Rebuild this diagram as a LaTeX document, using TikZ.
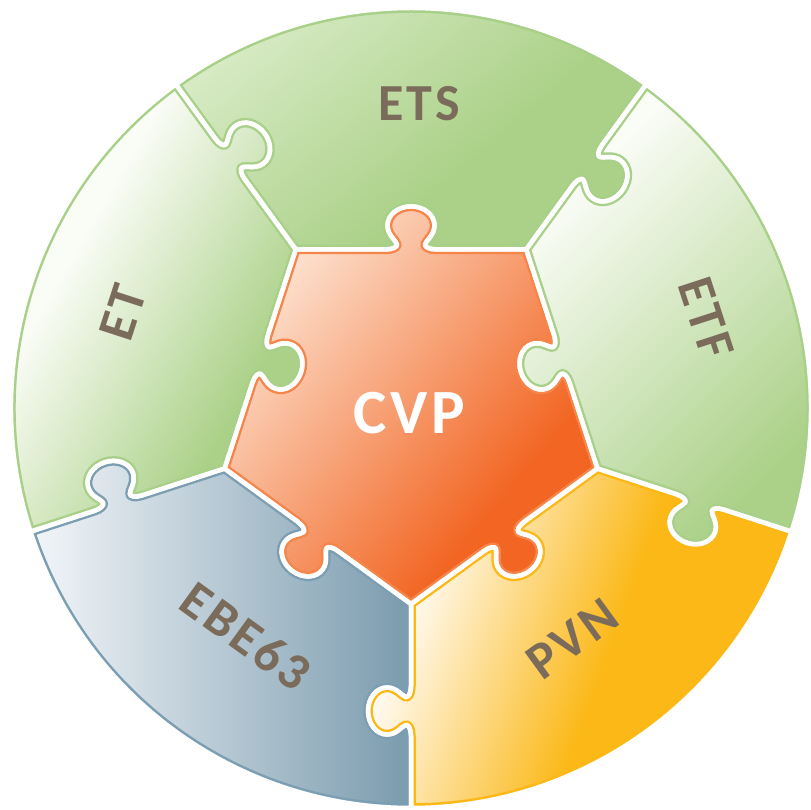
\documentclass[tikz,border=0pt]{standalone}
\usepackage{fontspec}
\setmainfont{Carlito}
\definecolor{txt}{RGB}{123,107,91}
\definecolor{grnO}{HTML}{A8D089}
\definecolor{grnD}{HTML}{ABD188}
\definecolor{grnM}{HTML}{DCEDCB}
\definecolor{grnL}{HTML}{FAFCF6}
\definecolor{orgL}{HTML}{FDE6D6}
\definecolor{orgD}{HTML}{F26522}
\definecolor{orgO}{HTML}{F58549}
\definecolor{bluL}{HTML}{F3F6F9}
\definecolor{bluD}{HTML}{7A9BAE}
\definecolor{bluO}{HTML}{7C9EB2}
\definecolor{yelL}{HTML}{FFF9EE}
\definecolor{yelD}{HTML}{FBB817}
\tikzset{
  kf/.style n args={3}{shift={#1},rotate=#2-90,xscale=#3},
  lbl/.style={text=txt, font=\fontsize{52}{60}\selectfont\bfseries\addfontfeatures{LetterSpace=6}, inner sep=0pt},
  cvplbl/.style={text=white, font=\fontsize{63}{72}\selectfont\bfseries\addfontfeatures{LetterSpace=6}, inner sep=0pt},
  gap/.style={draw=white, line width=4.5pt, line join=round},
  rim/.style={line width=9.5pt, line join=round},
}
% puzzle knob on an edge: #1 centre point, #2 direction of the knob, #3 +1 / -1 traversal
\newcommand\kn[3]{%
 -- ([kf={#1}{#2}{#3}]-25,0)
 .. controls ([kf={#1}{#2}{#3}]-18,0) and ([kf={#1}{#2}{#3}]-13.6,2.5) .. ([kf={#1}{#2}{#3}]-14,5)
 .. controls ([kf={#1}{#2}{#3}]-14.8,9) and ([kf={#1}{#2}{#3}]-23.5,14) .. ([kf={#1}{#2}{#3}]-23.5,24)
 .. controls ([kf={#1}{#2}{#3}]-23.5,34.5) and ([kf={#1}{#2}{#3}]-13,43) .. ([kf={#1}{#2}{#3}]0,43)
 .. controls ([kf={#1}{#2}{#3}]13,43) and ([kf={#1}{#2}{#3}]23.5,34.5) .. ([kf={#1}{#2}{#3}]23.5,24)
 .. controls ([kf={#1}{#2}{#3}]23.5,14) and ([kf={#1}{#2}{#3}]14.8,9) .. ([kf={#1}{#2}{#3}]14,5)
 .. controls ([kf={#1}{#2}{#3}]13.6,2.5) and ([kf={#1}{#2}{#3}]18,0) .. ([kf={#1}{#2}{#3}]25,0)}
\newcommand\pCVP{(126:196) \kn{(90:158.6)}{90}{1} -- (54:196) \kn{(18:158.6)}{198}{-1} -- (-18:196) \kn{(-54:158.6)}{-54}{1} -- (-90:196) \kn{(-126:158.6)}{-126}{1} -- (198:196) \kn{(162:158.6)}{-18}{-1} -- cycle}
\newcommand\pETS{(126:196) \kn{(126:308)}{36}{-1} -- (126:400) arc[start angle=126,end angle=54,radius=400pt] \kn{(54:300)}{-36}{1} -- (54:196) \kn{(90:158.6)}{90}{-1} -- cycle}
\newcommand\pETF{(54:196) \kn{(54:300)}{-36}{-1} -- (54:400) arc[start angle=54,end angle=-18,radius=400pt] \kn{(-18:304)}{-108}{1} -- (-18:196) \kn{(18:158.6)}{198}{1} -- cycle}
\newcommand\pPVN{(-18:196) \kn{(-18:304)}{-108}{-1} -- (-18:400) arc[start angle=-18,end angle=-90,radius=400pt] \kn{(-90:303)}{180}{1} -- (-90:196) \kn{(-54:158.6)}{-54}{-1} -- cycle}
\newcommand\pEBE{(-90:196) \kn{(-90:303)}{180}{-1} -- (-90:400) arc[start angle=270,end angle=198,radius=400pt] \kn{(198:308)}{108}{1} -- (198:196) \kn{(-126:158.6)}{-126}{-1} -- cycle}
\newcommand\pET{(198:196) \kn{(198:308)}{108}{-1} -- (198:400) arc[start angle=198,end angle=126,radius=400pt] \kn{(126:308)}{36}{1} -- (126:196) \kn{(162:158.6)}{-18}{1} -- cycle}
% #1 path, #2 gradient direction, #3 #4 start/end of gradient along it, #5 #6 colours, #7 outline
\newcommand\piece[7]{%
  \begin{scope}
    \clip #1;
    \begin{scope}[transform canvas={rotate=#2}]
      \fill[#5] (-900,-900) rectangle (#3+0.5,900);
      \fill[#6] (#4-0.5,-900) rectangle (900,900);
      \shade[left color=#5, right color=#6] (#3,-900) rectangle (#4,900);
    \end{scope}
    \draw[rim, draw=#7] #1;
  \end{scope}}
\begin{document}
\begin{tikzpicture}[x=1pt,y=1pt]
  \fill[white] (-411,-402) rectangle (399,408);
  \useasboundingbox (-411,-402) rectangle (399,408);
  \piece{\pETS}{-50}{-420}{-150}{grnM}{grnD}{grnO}
  \piece{\pET}{-30}{-370}{-150}{grnL}{grnD}{grnO}
  \piece{\pETF}{-45}{-40}{300}{grnL}{grnD}{grnO}
  \piece{\pEBE}{0}{-380}{0}{bluL}{bluD}{bluO}
  \piece{\pPVN}{-20}{70}{270}{yelL}{yelD}{yelD}
  \piece{\pCVP}{-40}{-200}{130}{orgL}{orgD}{orgO}
  \foreach \p in {\pETS,\pET,\pETF,\pEBE,\pPVN,\pCVP} {\draw[gap] \p;}
  \node[lbl] (ets) at (8,304.5) {ETS};
  \node[lbl, rotate=72] (et) at (-288,95) {ET};
  \node[lbl, rotate=-72] (etf) at (295,90) {ETF};
  \node[lbl, rotate=-36] (ebe) at (-165,-228) {EBE63};
  \node[lbl, rotate=36] (pvn) at (161,-231) {PVN};
  \node[cvplbl] (cvp) at (-2,-5) {CVP};
\end{tikzpicture}
\end{document}
